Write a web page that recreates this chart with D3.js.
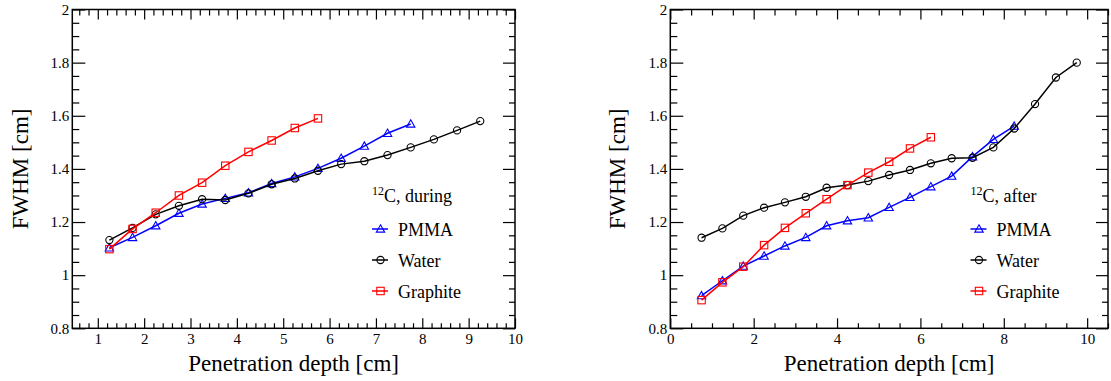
<!DOCTYPE html>
<html><head><meta charset="utf-8">
<script src="https://cdn.jsdelivr.net/npm/d3@7/dist/d3.min.js"></script>
</head>
<body style="margin:0">
<svg id="c" width="1111" height="381"></svg>
<script>
// ---- data ----
const depthDuring = [1.25,1.75,2.25,2.75,3.25,3.75,4.25,4.75,5.25,5.75,6.25,6.75,7.25,7.75,8.25,8.75,9.25];
const duringPMMA     = [1.103,1.142,1.186,1.233,1.268,1.289,1.310,1.345,1.370,1.402,1.440,1.486,1.534,1.569];
const duringWater    = [1.132,1.178,1.229,1.261,1.286,1.283,1.308,1.342,1.364,1.393,1.418,1.429,1.452,1.481,1.511,1.545,1.580];
const duringGraphite = [1.098,1.174,1.235,1.300,1.348,1.412,1.464,1.507,1.554,1.590];

const depthAfter = [0.75,1.25,1.75,2.25,2.75,3.25,3.75,4.25,4.75,5.25,5.75,6.25,6.75,7.25,7.75,8.25,8.75,9.25,9.75];
const afterPMMA     = [0.923,0.979,1.034,1.072,1.110,1.142,1.186,1.205,1.216,1.255,1.293,1.333,1.373,1.446,1.511,1.561];
const afterWater    = [1.141,1.176,1.224,1.254,1.274,1.295,1.329,1.339,1.354,1.377,1.396,1.421,1.440,1.442,1.481,1.552,1.644,1.744,1.800];
const afterGraphite = [0.906,0.973,1.032,1.113,1.178,1.233,1.286,1.339,1.386,1.427,1.477,1.519];

const yTicks = [0.8,1,1.2,1.4,1.6,1.8,2];
const xTicksLeft = [1,2,3,4,5,6,7,8,9,10];
const xTicksRight = [0,2,4,6,8,10];
const seriesNames = ["PMMA","Water","Graphite"];
const seriesColors = ["#0000ff","#000000","#ff0000"];
const seriesSymbols = ["triangle","circle","square"];
const panelTitles = ["during","after"];

const svg = d3.select("#c").attr("font-family","Liberation Serif");

function txt(sel, size){
  return sel.attr("font-family","Liberation Serif")
            .style("font-family","'Liberation Serif', 'Times New Roman', serif","important")
            .attr("font-size",size).attr("fill","#000");
}

function marker(g, type, color, cx, cy){
  if(type==="circle"){
    g.append("circle").attr("cx",cx).attr("cy",cy).attr("r",3.6)
     .attr("fill","none").attr("stroke",color).attr("stroke-width",1.1);
  } else if(type==="square"){
    g.append("rect").attr("x",cx-3.7).attr("y",cy-3.7).attr("width",7.4).attr("height",7.4)
     .attr("fill","none").attr("stroke",color).attr("stroke-width",1.1);
  } else {
    const s=4.2;
    g.append("path").attr("d",`M${cx},${cy-s}L${cx+s},${cy+s*0.75}L${cx-s},${cy+s*0.75}Z`)
     .attr("fill","none").attr("stroke",color).attr("stroke-width",1.1);
  }
}

function range(a,b,step){const r=[];for(let v=a;v<=b+1e-9;v+=step)r.push(+v.toFixed(4));return r;}

function panel(opt){
  const {left,right,top,bottom,xDomain,xMajors,xMinors,depth,data,title,legX,ytitleX} = opt;
  const x = d3.scaleLinear().domain(xDomain).range([left,right]);
  const y = d3.scaleLinear().domain([0.8,2]).range([bottom,top]);
  const g = svg.append("g");
  const yMinors = range(0.8,2,0.05).filter(v=>!yTicks.some(t=>Math.abs(t-v)<1e-6));

  data.forEach((vals,i)=>{
    const pts = vals.map((v,j)=>[depth[j],v]);
    g.append("path").datum(pts)
      .attr("d",d3.line().x(d=>x(d[0])).y(d=>y(d[1])))
      .attr("fill","none").attr("stroke",seriesColors[i]).attr("stroke-width",1.5);
    const mg = g.append("g");
    pts.forEach(p=>marker(mg,seriesSymbols[i],seriesColors[i],x(p[0]),y(p[1])));
  });

  function styleAxis(sel){
    sel.attr("font-family","Liberation Serif").attr("font-size",15);
    sel.select(".domain").remove();
    sel.selectAll("line").attr("stroke","#000").attr("stroke-width",1.2);
    txt(sel.selectAll("text"),15);
  }
  g.append("g").attr("transform",`translate(0,${bottom})`)
    .call(d3.axisBottom(x).tickValues(xMajors).tickSize(-10).tickPadding(5).tickFormat(d3.format("d"))).call(styleAxis);
  g.append("g").attr("transform",`translate(0,${bottom})`)
    .call(d3.axisBottom(x).tickValues(xMinors).tickSize(-5).tickFormat("")).call(styleAxis);
  g.append("g").attr("transform",`translate(0,${top})`)
    .call(d3.axisTop(x).tickValues(xMajors).tickSize(-10).tickFormat("")).call(styleAxis);
  g.append("g").attr("transform",`translate(0,${top})`)
    .call(d3.axisTop(x).tickValues(xMinors).tickSize(-6).tickFormat("")).call(styleAxis);
  g.append("g").attr("transform",`translate(${left},0)`)
    .call(d3.axisLeft(y).tickValues(yTicks).tickSize(-13).tickPadding(3).tickFormat(d=>String(+d.toFixed(1)))).call(styleAxis);
  g.append("g").attr("transform",`translate(${left},0)`)
    .call(d3.axisLeft(y).tickValues(yMinors).tickSize(-7).tickFormat("")).call(styleAxis);
  g.append("g").attr("transform",`translate(${right},0)`)
    .call(d3.axisRight(y).tickValues(yTicks).tickSize(-12).tickFormat("")).call(styleAxis);
  g.append("g").attr("transform",`translate(${right},0)`)
    .call(d3.axisRight(y).tickValues(yMinors).tickSize(-6).tickFormat("")).call(styleAxis);

  g.append("rect").attr("x",left).attr("y",top).attr("width",right-left).attr("height",bottom-top)
    .attr("fill","none").attr("stroke","#000").attr("stroke-width",1.5);

  txt(g.append("text").attr("x",(left+right)/2).attr("y",371).attr("text-anchor","middle"),23)
    .text("Penetration depth [cm]");
  txt(g.append("text").attr("transform",`translate(${ytitleX},${(top+bottom)/2}) rotate(-90)`)
    .attr("text-anchor","middle"),23).text("FWHM [cm]");

  const t = txt(g.append("text").attr("x",legX).attr("y",201.5),18);
  t.append("tspan").attr("font-size",12).attr("dy",-7).text("12");
  t.append("tspan").attr("dy",7).text("C, " + title);
  const rowsY = [229,260,291];
  seriesNames.forEach((n,i)=>{
    const cy = rowsY[i];
    g.append("line").attr("x1",legX).attr("x2",legX+16).attr("y1",cy).attr("y2",cy)
      .attr("stroke",seriesColors[i]).attr("stroke-width",1.5);
    marker(g,seriesSymbols[i],seriesColors[i],legX+8.5,cy);
    txt(g.append("text").attr("x",legX+26).attr("y",cy+6.5),18).text(n);
  });
}

panel({left:72.3,right:515,top:9.5,bottom:328.3,xDomain:[0.45,10],
  xMajors:xTicksLeft, xMinors:range(0.6,9.8,0.2).filter(v=>Math.abs(v-Math.round(v))>1e-6),
  depth:depthDuring, data:[duringPMMA,duringWater,duringGraphite], title:panelTitles[0],
  legX:372, ytitleX:28});
panel({left:670.3,right:1108,top:9.5,bottom:328.3,xDomain:[0,10.5],
  xMajors:xTicksRight, xMinors:range(0.5,10.5,0.5).filter(v=>Math.abs(v/2-Math.round(v/2))>1e-6),
  depth:depthAfter, data:[afterPMMA,afterWater,afterGraphite], title:panelTitles[1],
  legX:970.5, ytitleX:625});
</script>
</body></html>
